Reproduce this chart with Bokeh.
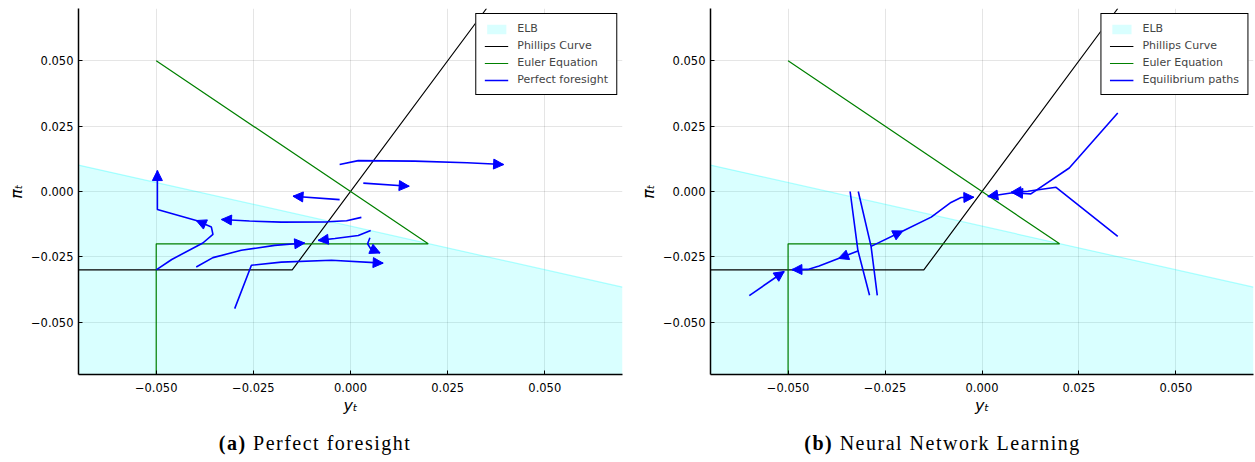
from bokeh.plotting import figure
from bokeh.models import (Arrow, NormalHead, ColumnDataSource, FixedTicker,
                          CustomJSTickFormatter, Range1d, Div)
from bokeh.layouts import row, column
from bokeh.embed import file_html
from bokeh.resources import INLINE

# ---------------- data ----------------
ticks = [-0.05, -0.025, 0.0, 0.025, 0.05]
lim = [-0.07, 0.07]

elb_x = [-0.07, 0.07]
elb_y = [0.0101, -0.0366]

phillips_x = [-0.07, -0.015, 0.035]
phillips_y = [-0.03, -0.03, 0.07]

euler_x = [-0.05, 0.02, -0.05, -0.05]
euler_y = [0.05, -0.02, -0.02, -0.07]

# panel (a): perfect foresight paths
a1_x = [-0.0500, -0.0460, -0.0380, -0.0354, -0.0358, -0.0397, -0.0497, -0.0497]
a1_y = [-0.0300, -0.0260, -0.0197, -0.0164, -0.0136, -0.0111, -0.0069, 0.0080]
a2_x = [0.0028, -0.0010, -0.0060, -0.0178, -0.0260, -0.0332]
a2_y = [-0.0099, -0.0112, -0.0116, -0.0117, -0.0113, -0.0107]
a3_x = [-0.0028, -0.0148]
a3_y = [-0.0031, -0.0018]
a4_x = [0.0033, 0.0151]
a4_y = [0.0032, 0.0020]
a5_x = [-0.0028, 0.0020, 0.0165, 0.0300, 0.0394]
a5_y = [0.0103, 0.0118, 0.0116, 0.0110, 0.0103]
a6_x = [0.0052, 0.0020, -0.0040, -0.0083]
a6_y = [-0.0149, -0.0168, -0.0180, -0.0187]
a7_x = [-0.0397, -0.0354, -0.0281, -0.0195, -0.0118]
a7_y = [-0.0289, -0.0253, -0.0225, -0.0206, -0.0197]
a8_x = [-0.0298, -0.0255, -0.0178, -0.0049, 0.0084]
a8_y = [-0.0448, -0.0282, -0.0270, -0.0263, -0.0274]
a9_x = [0.0050, 0.0044, 0.0052, 0.0076]
a9_y = [-0.0177, -0.0200, -0.0219, -0.0235]
a_arrows = [[5, 7], [5], [1], [1], [4], [3], [4], [4], [3]]

# panel (b): equilibrium paths under learning
b1_x = [-0.0600, -0.0510]
b1_y = [-0.0398, -0.0306]
b2_x = [-0.0320, -0.0370, -0.0420, -0.0449, -0.0490]
b2_y = [-0.0228, -0.0256, -0.0285, -0.0298, -0.0299]
b3_x = [-0.0286, -0.0204, -0.0131, -0.0080, -0.0054, -0.0021]
b3_y = [-0.0210, -0.0151, -0.0098, -0.0042, -0.0023, -0.0022]
b4_x = [0.0350, 0.0225, 0.0126, 0.0079, 0.0015]
b4_y = [0.0300, 0.0090, -0.0009, -0.0005, -0.0019]
b5_x = [0.0350, 0.0191, 0.0118, 0.0075]
b5_y = [-0.0172, 0.0016, 0.0001, -0.0003]
b6_x = [-0.0340, -0.0320, -0.0290]
b6_y = [0.0000, -0.0225, -0.0397]
b7_x = [-0.0319, -0.0286, -0.0270]
b7_y = [0.0000, -0.0210, -0.0397]
b_arrows = [[1], [1, 4], [1, 5], [3, 4], [3], [], []]

FONT = "DejaVu Sans"


def make_fig(w, bl, br, paths_x, paths_y, arrows, path_label):
    p = figure(width=w, height=426, x_range=Range1d(*lim), y_range=Range1d(*lim),
               output_backend="svg", toolbar_location=None,
               min_border_left=bl, min_border_right=br, min_border_top=8,
               min_border_bottom=52)
    p.outline_line_color = None
    p.background_fill_color = "white"

    p.varea(x=elb_x, y1=[lim[0], lim[0]], y2=elb_y, fill_color="cyan",
            fill_alpha=0.15, legend_label="ELB")
    p.line(elb_x, elb_y, line_color="cyan", line_alpha=0.3, line_width=1.2)
    p.line(phillips_x, phillips_y, line_color="black", line_width=1.2,
           legend_label="Phillips Curve")
    p.line(euler_x, euler_y, line_color="green", line_width=1.2,
           legend_label="Euler Equation")
    p.multi_line(xs=paths_x, ys=paths_y, line_color="blue", line_width=1.6,
                 legend_label=path_label)

    x0, y0, x1, y1 = [], [], [], []
    for xs, ys, idxs in zip(paths_x, paths_y, arrows):
        for i in idxs:
            x0.append(xs[i - 1]); y0.append(ys[i - 1])
            x1.append(xs[i]); y1.append(ys[i])
    src = ColumnDataSource(dict(x0=x0, y0=y0, x1=x1, y1=y1))
    p.add_layout(Arrow(end=NormalHead(size=10, fill_color="blue", line_color="blue"),
                       x_start="x0", y_start="y0", x_end="x1", y_end="y1",
                       source=src, line_alpha=0))

    fmt = CustomJSTickFormatter(code="return (tick < -1e-9 ? '\u2212' : '') + Math.abs(tick).toFixed(3);")
    for ax in (p.xaxis[0], p.yaxis[0]):
        ax.ticker = FixedTicker(ticks=ticks)
        ax.formatter = fmt
        ax.major_tick_in = 4
        ax.major_tick_out = 0
        ax.minor_tick_line_color = None
        ax.axis_line_width = 1.5
        ax.major_tick_line_width = 1
        ax.major_label_text_font = FONT
        ax.major_label_text_font_size = "11.5px"
        ax.major_label_text_color = "black"
        ax.axis_label_text_font = FONT
        ax.axis_label_text_font_style = "italic"
        ax.axis_label_text_font_size = "16px"
        ax.axis_label_text_color = "black"
    p.xaxis.axis_label = "y\u209c"
    p.yaxis.axis_label = "\u03c0\u209c"
    p.xaxis.major_label_standoff = 8
    p.yaxis.major_label_standoff = 5
    p.xaxis.axis_label_standoff = 1
    p.yaxis.axis_label_standoff = 2

    p.grid.grid_line_color = "black"
    p.grid.grid_line_alpha = 0.1
    p.grid.ticker = FixedTicker(ticks=ticks)

    lg = p.legend[0]
    lg.location = "top_right"
    lg.border_line_color = "black"
    lg.border_line_width = 1
    lg.border_line_alpha = 1
    lg.background_fill_alpha = 1
    lg.label_text_font = FONT
    lg.label_text_font_size = "11px"
    lg.label_height = 12
    lg.glyph_height = 12
    lg.glyph_width = 24
    lg.spacing = 4
    lg.padding = 8
    lg.margin = 5
    lg.label_standoff = 9
    return p


pa = make_fig(635, 78, 13,
              [a1_x, a2_x, a3_x, a4_x, a5_x, a6_x, a7_x, a8_x, a9_x],
              [a1_y, a2_y, a3_y, a4_y, a5_y, a6_y, a7_y, a8_y, a9_y],
              a_arrows, "Perfect foresight")
pb = make_fig(620, 74, 2,
              [b1_x, b2_x, b3_x, b4_x, b5_x, b6_x, b7_x],
              [b1_y, b2_y, b3_y, b4_y, b5_y, b6_y, b7_y],
              b_arrows, "Equilibrium paths")

cap_style = {"text-align": "center", "font-family": "Liberation Serif",
             "font-size": "20px", "letter-spacing": "1.5px", "color": "black",
             "width": "100%"}
da = Div(text="<b>(a)</b> Perfect foresight", width=630, height=26,
         styles=cap_style, margin=(3, 0, 0, 0))
db = Div(text="<b>(b)</b> Neural Network Learning", width=625, height=26,
         styles=cap_style, margin=(3, 0, 0, 0))

layout = column(row(pa, pb), row(da, db))
open("out.html", "w").write(file_html(layout, INLINE))
